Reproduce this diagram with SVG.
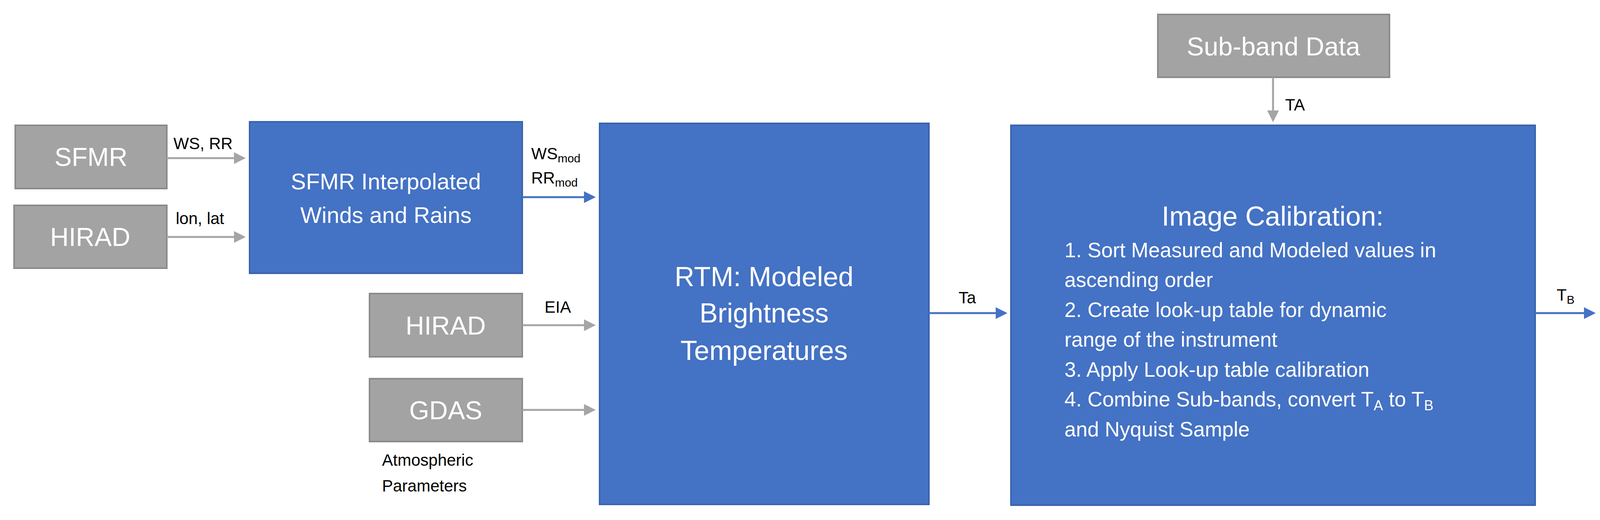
<svg xmlns="http://www.w3.org/2000/svg" width="4128" height="1332" viewBox="0 0 4128 1332">
<style>
.g{fill:#a3a3a3;stroke:#8a8a8a;stroke-width:4}
.b{fill:#4472c4;stroke:#3a63ad;stroke-width:4}
.gt{font-family:"Liberation Sans",Arial,sans-serif;font-size:66px;fill:#fff;text-anchor:middle}
.bt{font-family:"Liberation Sans",Arial,sans-serif;fill:#fff}
.lb{font-family:"Liberation Sans",Arial,sans-serif;font-size:42px;fill:#000}
.ga{stroke:#a5a5a5;stroke-width:5;fill:none;marker-end:url(#ag)}
.ba{stroke:#4472c4;stroke-width:5;fill:none;marker-end:url(#ab)}
</style>
<defs>
<marker id="ag" markerWidth="6" markerHeight="6" refX="5" refY="3" orient="auto" markerUnits="strokeWidth"><path d="M0,0L6,3L0,6z" fill="#a5a5a5"/></marker>
<marker id="ab" markerWidth="6" markerHeight="6" refX="5" refY="3" orient="auto" markerUnits="strokeWidth"><path d="M0,0L6,3L0,6z" fill="#4472c4"/></marker>
</defs>
<rect width="4128" height="1332" fill="#fff"/>
<g id="sfmr"><rect class="g" x="39" y="321" width="388" height="162"/><text class="gt" x="233" y="425">SFMR</text></g>
<g id="hirad1"><rect class="g" x="36" y="526" width="391" height="161"/><text class="gt" x="231" y="630">HIRAD</text></g>
<g id="interp"><rect class="b" x="639" y="312" width="698" height="388"/>
<text class="bt" font-size="58" text-anchor="middle" x="988" y="485">SFMR Interpolated</text>
<text class="bt" font-size="58" text-anchor="middle" x="988" y="571">Winds and Rains</text></g>
<g id="hirad2"><rect class="g" x="946" y="752" width="391" height="162"/><text class="gt" x="1141" y="857">HIRAD</text></g>
<g id="gdas"><rect class="g" x="946" y="970" width="391" height="161"/><text class="gt" x="1141" y="1074">GDAS</text></g>
<text class="lb" x="978" y="1193">Atmospheric</text>
<text class="lb" x="978" y="1259">Parameters</text>
<g id="rtm"><rect class="b" x="1535" y="316" width="843" height="976"/>
<text class="bt" font-size="70" text-anchor="middle" x="1956" y="733">RTM: Modeled</text>
<text class="bt" font-size="70" text-anchor="middle" x="1956" y="826">Brightness</text>
<text class="bt" font-size="70" text-anchor="middle" x="1956" y="922">Temperatures</text></g>
<g id="subband"><rect class="g" x="2964" y="37" width="593" height="161"/><text class="gt" x="3260" y="142">Sub-band Data</text></g>
<g id="calib"><rect class="b" x="2588" y="321" width="1342" height="973"/>
<text class="bt" font-size="70" text-anchor="middle" x="3258" y="578">Image Calibration:</text>
<g font-size="53" class="bt">
<text x="2725" y="659">1. Sort Measured and Modeled values in</text>
<text x="2725" y="735">ascending order</text>
<text x="2725" y="812">2. Create look-up table for dynamic</text>
<text x="2725" y="888">range of the instrument</text>
<text x="2725" y="965">3. Apply Look-up table calibration</text>
<text x="2725" y="1041">4. Combine Sub-bands, convert T<tspan font-size="36" dy="10">A</tspan><tspan dy="-10"> to T</tspan><tspan font-size="36" dy="10">B</tspan></text>
<text x="2725" y="1118">and Nyquist Sample</text>
</g></g>
<g id="connectors">
<path class="ga" d="M427,405H624"/>
<path class="ga" d="M427,607H624"/>
<path class="ba" d="M1337,505H1520"/>
<path class="ga" d="M1337,833H1520"/>
<path class="ga" d="M1337,1050H1520"/>
<path class="ba" d="M2378,802H2574"/>
<path class="ga" d="M3259,198V308"/>
<path class="ba" d="M3930,802H4080"/>
<text class="lb" x="444" y="382">WS, RR</text>
<text class="lb" x="450" y="574">lon, lat</text>
<text class="lb" x="1360" y="408">WS<tspan font-size="30" dy="8">mod</tspan></text>
<text class="lb" x="1360" y="470">RR<tspan font-size="30" dy="8">mod</tspan></text>
<text class="lb" x="1394" y="801">EIA</text>
<text class="lb" x="2454" y="777">Ta</text>
<text class="lb" x="3290" y="283">TA</text>
<text class="lb" x="3985" y="770">T<tspan font-size="30" dy="8">B</tspan></text>
</g>
</svg>
